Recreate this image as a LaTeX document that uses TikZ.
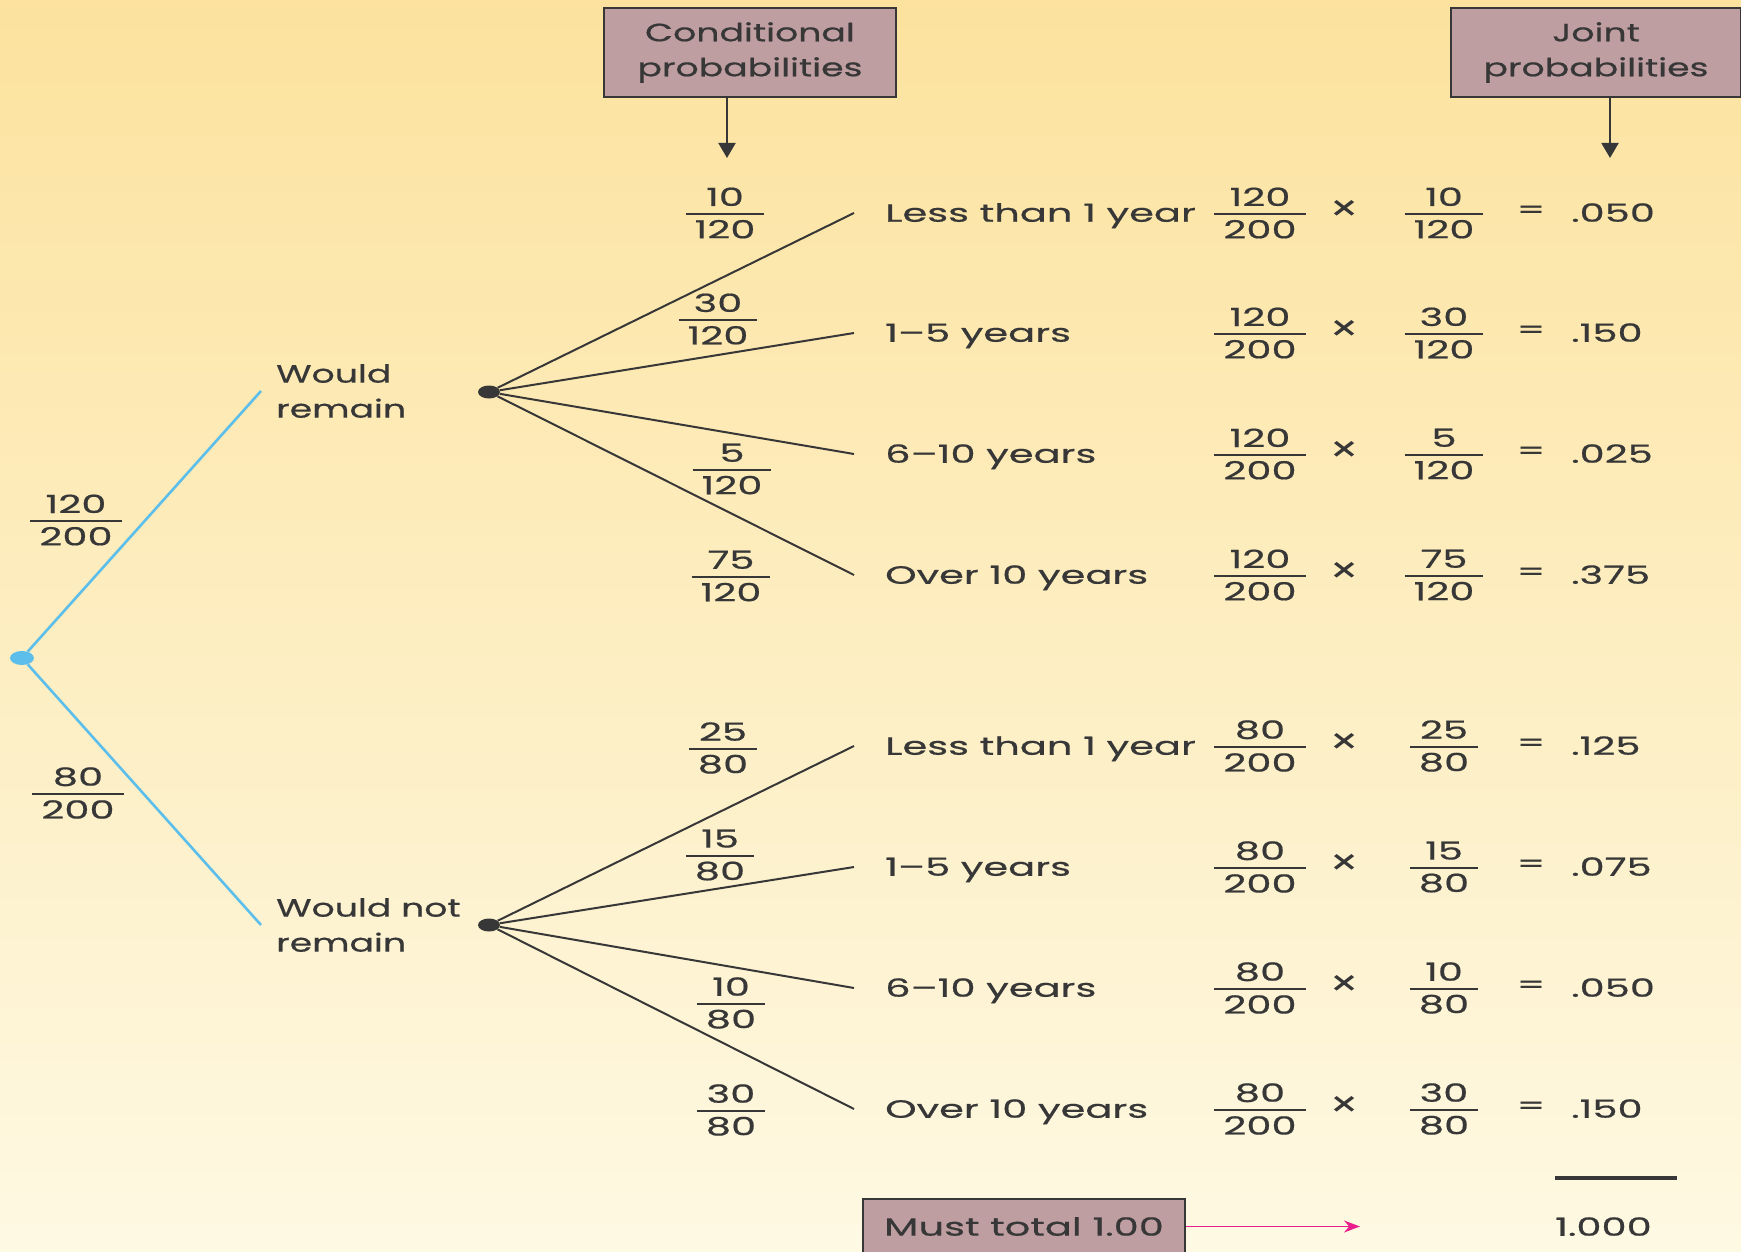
\documentclass[tikz,border=0pt]{standalone}
\usepackage{fontspec}
\setmainfont{Poppins}[FakeStretch=1.6,FakeBold=0.6]
\newfontfamily\narrowfont{Poppins}[FakeStretch=1.45,FakeBold=0.6]
\newfontfamily\timesfont{Poppins}[FakeStretch=1.3]
\usetikzlibrary{shapes.geometric,arrows.meta}
\definecolor{bgtop}{RGB}{252,226,158}
\definecolor{bgbot}{RGB}{254,249,227}
\definecolor{ink}{RGB}{55,55,55}
\definecolor{sky}{RGB}{92,190,235}
\definecolor{mauve}{RGB}{190,158,161}
\definecolor{pinkarrow}{RGB}{233,30,140}
\newdimen\frw
\newcommand\fr[2]{%
  \setbox0=\hbox{#1}\setbox2=\hbox{#2}%
  \frw=\wd0 \ifdim\wd2>\frw \frw=\wd2\fi
  \advance\frw by 18pt
  \vbox{\hbox to\frw{\hss\box0\hss}\kern7pt\hrule height 2pt\kern5pt\hbox to\frw{\hss\box2\hss}}}
\tikzset{
  hdrbox/.style={draw=ink, line width=2pt, fill=mauve, align=center, text=ink, inner sep=0pt},
  hdrarrow/.style={draw=ink, line width=2pt, -{Triangle[width=17pt,length=15pt]}},
  bluedot/.style={ellipse, fill=sky, minimum width=24pt, minimum height=14pt, inner sep=0pt},
  blackdot/.style={ellipse, fill=ink, minimum width=22pt, minimum height=13pt, inner sep=0pt},
  lbl/.style={anchor=west, align=left, inner xsep=15pt, inner ysep=0pt, text=ink, font=\fontsize{25}{35}\narrowfont},
  outlbl/.style={anchor=west, inner xsep=31pt, inner ysep=0pt, text=ink, text height=17.5pt, text depth=0pt},
  reslbl/.style={anchor=west, inner sep=0pt, text=ink, text height=17.5pt, text depth=0pt},
  fracnode/.style={inner sep=0pt, text=ink},
  opnode/.style={inner sep=0pt, text=ink},
  branch/.style={draw=ink, line width=2pt},
  bluebranch/.style={draw=sky, line width=2.6pt},
  pinkarr/.style={draw=pinkarrow, line width=1.8pt, -{Stealth[length=16pt,width=12pt]}},
}
\begin{document}
\begin{tikzpicture}[x=1pt,y=-1pt, font=\fontsize{25}{35}\selectfont]
\useasboundingbox (0,0) rectangle (1741,1252);
\fill[top color=bgtop,bottom color=bgbot] (0,0) rectangle (1741,1252);

% header boxes
\node[hdrbox, font=\fontsize{25}{35}\narrowfont, minimum width=292pt, minimum height=89pt] (cond) at (750,52.5) {Conditional\\probabilities};
\node[hdrbox, font=\fontsize{25}{35}\narrowfont, minimum width=290pt, minimum height=89pt] (joint) at (1596,52.5) {Joint\\probabilities};
\coordinate (ca) at (727,158);
\coordinate (ja) at (1610,158);
\draw[hdrarrow] (cond.south -| ca) -- (ca);
\draw[hdrarrow] (joint.south -| ja) -- (ja);

% root and first split
\node[bluedot] (root) at (22,658) {};
\node[lbl] (wr) at (261,391) {Would\\remain};
\node[lbl] (wnr) at (261,925) {Would not\\remain};
\draw[bluebranch] (root) -- (wr.west);
\draw[bluebranch] (root) -- (wnr.west);
\node[fracnode] (p1) at (76,520) {\fr{120}{200}};
\node[fracnode] (p2) at (78,793) {\fr{80}{200}};

\node[blackdot] (d1) at (489,392) {};
\node[blackdot] (d2) at (489,925) {};

% outcomes upper
\node[outlbl] (u1) at (854,213) {Less than 1 year};
\node[outlbl] (u2) at (854,333) {1–5 years};
\node[outlbl] (u3) at (854,454) {6–10 years};
\node[outlbl] (u4) at (854,575) {Over 10 years};
% outcomes lower
\node[outlbl] (l1) at (854,746) {Less than 1 year};
\node[outlbl] (l2) at (854,867) {1–5 years};
\node[outlbl] (l3) at (854,988) {6–10 years};
\node[outlbl] (l4) at (854,1109) {Over 10 years};

\foreach \n in {u1,u2,u3,u4} \draw[branch] (d1) -- (\n.west);
\foreach \n in {l1,l2,l3,l4} \draw[branch] (d2) -- (\n.west);

% conditional probabilities
\node[fracnode] (c1) at (725,213) {\fr{10}{120}};
\node[fracnode] (c2) at (718,319) {\fr{30}{120}};
\node[fracnode] (c3) at (732,469) {\fr{5}{120}};
\node[fracnode] (c4) at (731,576) {\fr{75}{120}};
\node[fracnode] (c5) at (723,748) {\fr{25}{80}};
\node[fracnode] (c6) at (720,855) {\fr{15}{80}};
\node[fracnode] (c7) at (731,1003) {\fr{10}{80}};
\node[fracnode] (c8) at (731,1110) {\fr{30}{80}};

% joint probability rows
\foreach \y/\a/\b/\c/\r/\k in {213/120/10/120/.050/1, 333/120/30/120/.150/2, 454/120/5/120/.025/3, 575/120/75/120/.375/4,
  746/80/25/80/.125/5, 867/80/15/80/.075/6, 988/80/10/80/.050/7, 1109/80/30/80/.150/8}{
  \node[fracnode] (ja\k) at (1260,\y) {\fr{\a}{200}};
  \node[opnode, font=\fontsize{36}{36}\timesfont] (jx\k) at (1345,\y-2) {×};
  \node[opnode] (jb\k) at (1444,\y) {\fr{\b}{\c}};
  \node[opnode] (je\k) at (1531,\y-1) {=};
  \node[reslbl] (jr\k) at (1571,\y) {\r};
}

% total
\draw[draw=ink, line width=4pt] (1555,1178) -- (1677,1178);
\node[reslbl] (total) at (1555,1227) {1.000};
\node[hdrbox, minimum width=322pt, minimum height=55pt] (must) at (1024,1226.5) {Must total 1.00};
\coordinate (mt) at (1360,1226.5);
\draw[pinkarr] (must.east) -- (mt);
\end{tikzpicture}
\end{document}
